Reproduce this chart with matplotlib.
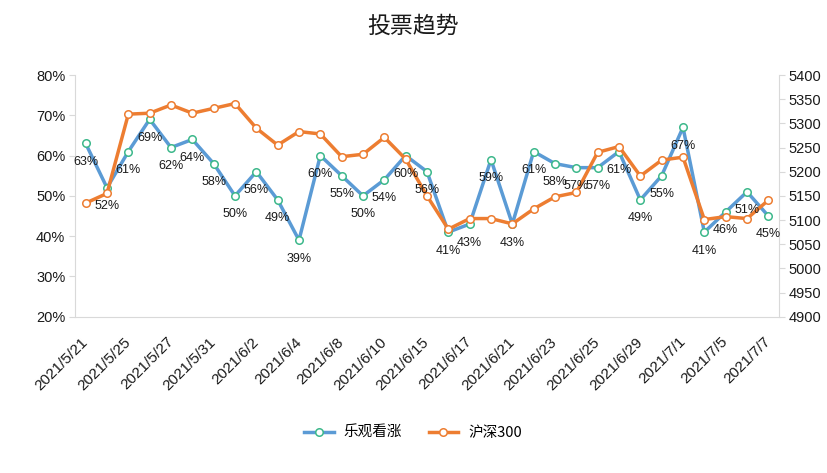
import matplotlib
matplotlib.use("Agg")
import matplotlib.pyplot as plt
from matplotlib.ticker import FuncFormatter, MultipleLocator
from matplotlib.lines import Line2D
from matplotlib.font_manager import FontProperties

plt.rcParams['font.family'] = ['Liberation Sans', 'Noto Sans CJK SC', 'DejaVu Sans']

dates = ["2021/5/21", "2021/5/24", "2021/5/25", "2021/5/26", "2021/5/27", "2021/5/28",
         "2021/5/31", "2021/6/1", "2021/6/2", "2021/6/3", "2021/6/4", "2021/6/7",
         "2021/6/8", "2021/6/9", "2021/6/10", "2021/6/11", "2021/6/15", "2021/6/16",
         "2021/6/17", "2021/6/18", "2021/6/21", "2021/6/22", "2021/6/23", "2021/6/24",
         "2021/6/25", "2021/6/28", "2021/6/29", "2021/6/30", "2021/7/1", "2021/7/2",
         "2021/7/5", "2021/7/6", "2021/7/7"]
bullish_pct = [63, 52, 61, 69, 62, 64, 58, 50, 56, 49, 39, 60, 55, 50, 54, 60, 56,
               41, 43, 59, 43, 61, 58, 57, 57, 61, 49, 55, 67, 41, 46, 51, 45]
hs300 = [5135, 5155, 5319, 5321, 5338, 5321, 5331, 5341, 5290, 5255, 5283, 5278,
         5231, 5236, 5271, 5226, 5150, 5081, 5103, 5103, 5092, 5123, 5148, 5157,
         5240, 5252, 5191, 5224, 5230, 5101, 5107, 5103, 5141]
series_names = ["乐观看涨", "沪深300"]
title = "投票趋势"

W, H = 827, 473
fig = plt.figure(figsize=(W / 100, H / 100), dpi=100)
L, R, T, B = 75, 779, 75, 316.7
ax1 = fig.add_axes([L / W, 1 - B / H, (R - L) / W, (B - T) / H])
ax2 = ax1.twinx()

blue = '#5B9BD5'
green_edge = '#3DB88B'
orange = '#ED7D31'
grey = '#D9D9D9'
txt = '#1a1a1a'
ms, mew, lw = 5.4, 1.1, 2.5

x = list(range(len(dates)))
vals = [v / 100 for v in bullish_pct]
ax1.plot(x, vals, color=blue, lw=lw, marker='o', ms=ms, mfc='white',
         mec=green_edge, mew=mew, solid_joinstyle='round', zorder=3)
ax2.plot(x, hs300, color=orange, lw=lw, marker='o', ms=ms, mfc='white',
         mec=orange, mew=mew, solid_joinstyle='round', zorder=3)

ax1.set_xlim(-0.5, len(dates) - 0.5)
ax1.set_ylim(0.2, 0.8)
ax1.yaxis.set_major_locator(MultipleLocator(0.1))
ax1.yaxis.set_major_formatter(FuncFormatter(lambda v, p: f"{round(v * 100)}%"))
ax2.set_ylim(4900, 5400)
ax2.yaxis.set_major_locator(MultipleLocator(50))

for ax in (ax1, ax2):
    ax.spines['top'].set_visible(False)
ax1.spines['right'].set_visible(False)
ax2.spines['left'].set_visible(False)
ax2.spines['bottom'].set_visible(False)
ax1.spines['left'].set_color(grey)
ax1.spines['bottom'].set_color(grey)
ax2.spines['right'].set_color(grey)

ax1.set_xticks(x[::2])
ax1.set_xticklabels(dates[::2], rotation=45, ha='right', va='center',
                    rotation_mode='anchor', fontsize=11, color=txt)
ax1.tick_params(axis='x', length=0, pad=16.5)
ax1.tick_params(axis='y', colors=grey, labelcolor=txt, labelsize=10.5, length=4, pad=3)
ax2.tick_params(axis='y', colors=grey, labelcolor=txt, labelsize=10.5, length=4, pad=3)

for i, v in enumerate(bullish_pct):
    ax2.annotate(f"{v}%", xy=(i, v / 100), xycoords=ax1.transData,
                 xytext=(0, -13.3), textcoords='offset points',
                 ha='center', va='center', fontsize=9, color=txt, zorder=10)

fig.text(0.4995, 0.945, title, ha='center', va='center', fontsize=16.5,
         family=['Noto Sans CJK SC', 'DejaVu Sans'], color=txt)

handles = [Line2D([], [], color=blue, lw=lw, marker='o', ms=ms, mfc='white',
                  mec=green_edge, mew=mew),
           Line2D([], [], color=orange, lw=lw, marker='o', ms=ms, mfc='white',
                  mec=orange, mew=mew)]
fig.legend(handles, series_names, loc='center', bbox_to_anchor=(0.4995, 0.085),
           ncol=2, frameon=False, handlelength=2.0, columnspacing=1.8,
           handletextpad=0.7,
           prop=FontProperties(family=['Noto Sans CJK SC', 'DejaVu Sans'], size=10.5))

fig.savefig('out.png', dpi=100)
